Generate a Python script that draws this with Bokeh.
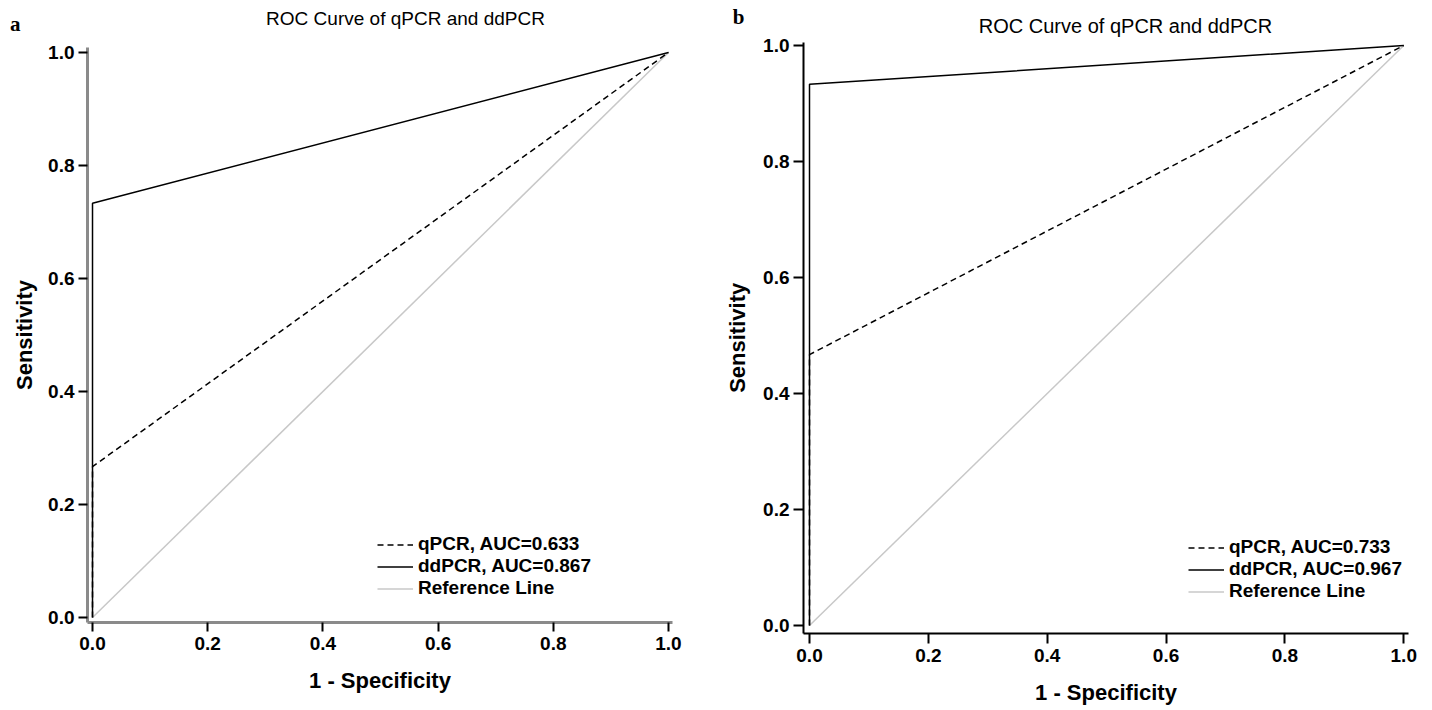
from bokeh.plotting import figure
from bokeh.layouts import row
from bokeh.models import (Range1d, FixedTicker, NumeralTickFormatter, Legend, LegendItem, Label,
                          LinearAxis)
from bokeh.embed import file_html
from bokeh.resources import INLINE

# ---- data ----
fpr_a_q = [0.0, 0.0, 1.0]
tpr_a_q = [0.0, 0.267, 1.0]
fpr_a_d = [0.0, 0.0, 1.0]
tpr_a_d = [0.0, 0.733, 1.0]
fpr_b_q = [0.0, 0.0, 1.0]
tpr_b_q = [0.0, 0.467, 1.0]
fpr_b_d = [0.0, 0.0, 1.0]
tpr_b_d = [0.0, 0.933, 1.0]
ref_x = [0.0, 1.0]
ref_y = [0.0, 1.0]
ticks = [0.0, 0.2, 0.4, 0.6, 0.8, 1.0]
labels_a = ["qPCR, AUC=0.633", "ddPCR, AUC=0.867", "Reference Line"]
labels_b = ["qPCR, AUC=0.733", "ddPCR, AUC=0.967", "Reference Line"]
title_text = "ROC Curve of qPCR and ddPCR"
x_title = "1 - Specificity"
y_title = "Sensitivity"

SANS = "Liberation Sans"


def text_axis(tick, text, standoff, font, size, orientation):
    """An extra left axis that only shows one tick label (used for side texts)."""
    return LinearAxis(ticker=FixedTicker(ticks=[tick]),
                      major_label_overrides={tick: text},
                      axis_line_color=None, major_tick_line_color=None,
                      minor_tick_line_color=None, major_tick_in=0, major_tick_out=0,
                      major_label_standoff=standoff,
                      major_label_orientation=orientation,
                      major_label_text_font=font,
                      major_label_text_font_style="bold",
                      major_label_text_font_size=size,
                      major_label_text_color="black")


def make_panel(letter, letter_y, letter_standoff, ylab_standoff, qx, qy, dx, dy, labels,
               xr, yr, ybound_top, bl, fw, fh, W, H,
               axis_color, axis_w, tick_out, leg_xy, title_xy, title_size):
    p = figure(width=W, height=H, x_range=Range1d(*xr), y_range=Range1d(*yr),
               output_backend="svg", toolbar_location=None,
               min_border_left=bl, min_border_top=0,
               min_border_right=W - bl - fw, min_border_bottom=H - fh)
    p.outline_line_color = None
    p.xgrid.visible = False
    p.ygrid.visible = False
    p.background_fill_color = "white"
    p.border_fill_color = "white"

    r_ref = p.line(ref_x, ref_y, line_color="#c8c8c8", line_width=1.5)
    r_q = p.line(qx, qy, line_color="black", line_width=1.5, line_dash="6 4")
    r_d = p.line(dx, dy, line_color="black", line_width=1.5)

    for ax in (p.xaxis[0], p.yaxis[0]):
        ax.ticker = FixedTicker(ticks=ticks)
        ax.formatter = NumeralTickFormatter(format="0.0")
        ax.minor_tick_line_color = None
        ax.major_tick_in = 0
        ax.major_tick_out = tick_out
        ax.major_tick_line_width = 2
        ax.major_tick_line_color = "black"
        ax.axis_line_color = axis_color
        ax.axis_line_width = axis_w
        ax.major_label_text_font = SANS
        ax.major_label_text_font_style = "bold"
        ax.major_label_text_font_size = "19px"
        ax.major_label_text_color = "black"
        ax.major_label_standoff = 4
        ax.axis_label_text_font = SANS
        ax.axis_label_text_font_style = "bold"
        ax.axis_label_text_color = "black"
    p.yaxis[0].bounds = (yr[0], ybound_top)
    p.xaxis[0].major_label_standoff = 5
    p.xaxis.axis_label = x_title
    p.xaxis.axis_label_text_font_size = "22px"
    p.xaxis.axis_label_standoff = 15

    # y title centred on the drawn part of the axis
    mid = round((yr[0] + ybound_top) / 2, 3)
    p.add_layout(text_axis(mid, y_title, ylab_standoff, SANS, "22px", "parallel"), "left")
    # panel letter
    p.add_layout(text_axis(letter_y, letter, letter_standoff, "Liberation Serif", "21px",
                           "horizontal"), "left")

    leg = Legend(items=[LegendItem(label=labels[0], renderers=[r_q]),
                        LegendItem(label=labels[1], renderers=[r_d]),
                        LegendItem(label=labels[2], renderers=[r_ref])],
                 location=leg_xy, border_line_color=None, background_fill_alpha=0,
                 padding=0, margin=0, spacing=0, label_standoff=5,
                 glyph_width=36, glyph_height=21, label_height=21,
                 label_text_font=SANS, label_text_font_style="bold",
                 label_text_font_size="19px", label_text_color="black")
    p.add_layout(leg, "center")

    p.add_layout(Label(x=title_xy[0], y=title_xy[1], x_units="screen", y_units="screen",
                       text=title_text, text_align="center",
                       text_baseline="middle", text_font=SANS, text_font_size=title_size,
                       text_color="black"))
    return p


pa = make_panel("a", 1.05, -11, 8, fpr_a_q, tpr_a_q, fpr_a_d, tpr_a_d, labels_a,
                (-0.0087, 1.007), (-0.00885, 1.092), 1.00885, 87, 585, 622, 716, 699,
                "#8a8a8a", 3, 9, (290, 23), (318, 604), "19px")
pb = make_panel("b", 1.05, -22, 10, fpr_b_q, tpr_b_q, fpr_b_d, tpr_b_d, labels_b,
                (-0.0101, 1.008), (-0.0138, 1.0776), 1.005, 87, 605, 633, 716, 710,
                "black", 2, 10, (385, 31), (322, 608), "20px")

layout = row(pa, pb)
open("out.html", "w").write(file_html(layout, INLINE))
